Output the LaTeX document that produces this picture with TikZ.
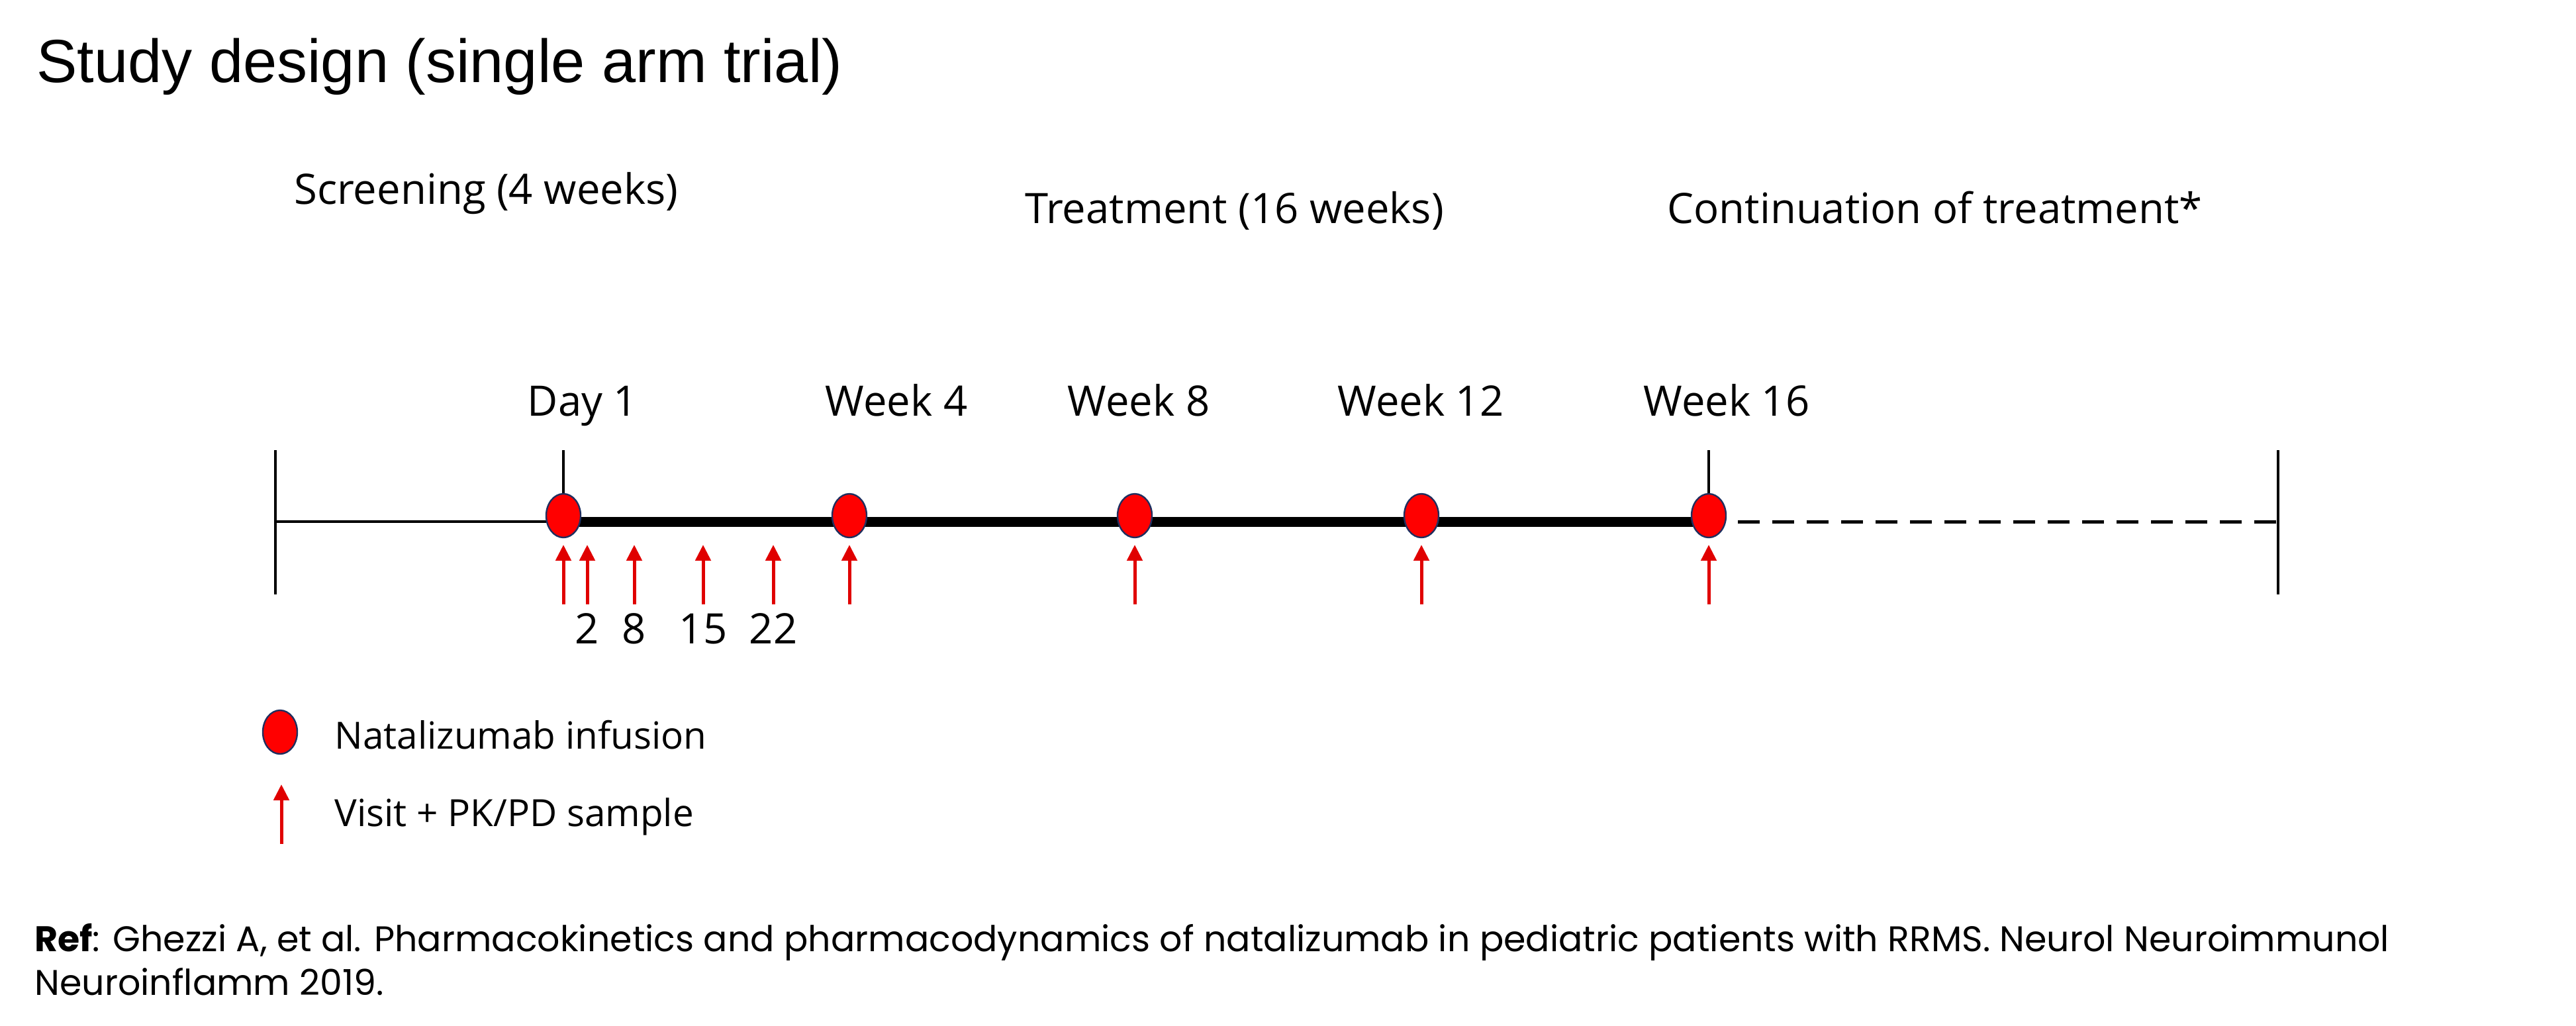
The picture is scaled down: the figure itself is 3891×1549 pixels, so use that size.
\documentclass[tikz,border=0pt]{standalone}
\usepackage{fontspec}
\setmainfont{Open Sans}
\newfontfamily\titlefont{Liberation Sans}
\newfontfamily\reffont{Poppins}
\usepackage{tikz}
\usetikzlibrary{arrows.meta,shapes.geometric,backgrounds}
\definecolor{infred}{HTML}{FF0000}
\definecolor{infedge}{HTML}{1F2F5F}
\definecolor{visitred}{HTML}{E00000}
\tikzset{
  txt/.style={inner sep=0pt, font=\fontsize{31.7}{38}\selectfont},
  legtxt/.style={inner sep=0pt, font=\fontsize{28.3}{34}\selectfont},
  ttl/.style={inner sep=0pt, font=\titlefont\fontsize{46}{55}\selectfont},
  reftxt/.style={inner sep=0pt, font=\reffont\fontsize{26.9}{33}\selectfont},
  inf/.style={ellipse, draw=infedge, line width=1.2pt, fill=infred, minimum width=26pt, minimum height=33pt, inner sep=0pt},
  visit/.style={-{Triangle[length=12pt,width=11.5pt]}, draw=visitred, line width=2.5pt},
  bar/.style={line width=1.7pt},
  screenline/.style={line width=2pt},
  treatline/.style={line width=7.5pt},
  contline/.style={line width=2.5pt, dash pattern=on 16.5pt off 9.5pt, dash phase=4pt}
}

\begin{document}
\begin{tikzpicture}[x=0.5pt, y=-0.5pt]
\useasboundingbox (0,0) rectangle (3891,1549);
% headings
\node[ttl, anchor=base west] (title) at (55,124) {Study design (single arm trial)};
\node[txt, anchor=base west] (screen) at (444,308) {Screening (4 weeks)};
\node[txt, anchor=base west] (treat) at (1548,337) {Treatment (16 weeks)};
\node[txt, anchor=base west] (cont) at (2518,337) {Continuation of treatment*};
% time points
\foreach \n/\x/\t/\lx in {d1/851/Day 1/880, w4/1283/Week 4/1354, w8/1714/Week 8/1720, w12/2147/Week 12/2146, w16/2581/Week 16/2608} {
  \node[inf] (\n) at (\x,779) {};
  \node[txt, anchor=base] (\n lbl) at (\lx,628) {\t};
}
\coordinate (L) at (416,788);
\coordinate (R) at (3441,788);
\coordinate (Ltop) at (416,680);
\coordinate (Lbot) at (416,898);
\coordinate (Rtop) at (3441,680);
\coordinate (Rbot) at (3441,898);
\begin{scope}[on background layer]
\draw[screenline] (L) -- (L -| d1);
\draw[treatline] (L -| d1) -- (L -| w16);
\draw[contline] (L -| w16) -- (R);
\draw[bar] (Ltop) -- (Lbot);
\draw[bar] (Rtop) -- (Rbot);
\draw[bar] (Ltop -| d1) -- (d1.north);
\draw[bar] (Ltop -| w16) -- (w16.north);
\end{scope}
% visits
\foreach \i/\x in {1/851,2/887,3/958,4/1062,5/1168,6/1283,7/1714,8/2147,9/2581} {
  \coordinate (vb\i) at (\x,913);
  \coordinate (vt\i) at (\x,823);
  \draw[visit] (vb\i) -- (vt\i);
}
\foreach \i/\d in {2/2,3/8,4/15,5/22}
  \node[txt, anchor=base] (day\d) at (vb\i |- 0,972) {\d};
% legend
\node[inf] (leginf) at (423,1106) {};
\node[legtxt, anchor=base west] (leginftxt) at (505,1131) {Natalizumab infusion};
\coordinate (legvb) at (425,1275);
\coordinate (legvt) at (425,1185);
\draw[visit] (legvb) -- (legvt);
\node[legtxt, anchor=base west] (legvisittxt) at (505,1248) {Visit + PK/PD sample};
% reference
\node[reftxt, anchor=base west] (ref1) at (52,1437) {\textbf{Ref}: Ghezzi A, et al. Pharmacokinetics and pharmacodynamics of natalizumab in pediatric patients with RRMS. Neurol Neuroimmunol};
\node[reftxt, anchor=base west] (ref2) at (52,1503) {Neuroinflamm 2019.};
\end{tikzpicture}
\end{document}
